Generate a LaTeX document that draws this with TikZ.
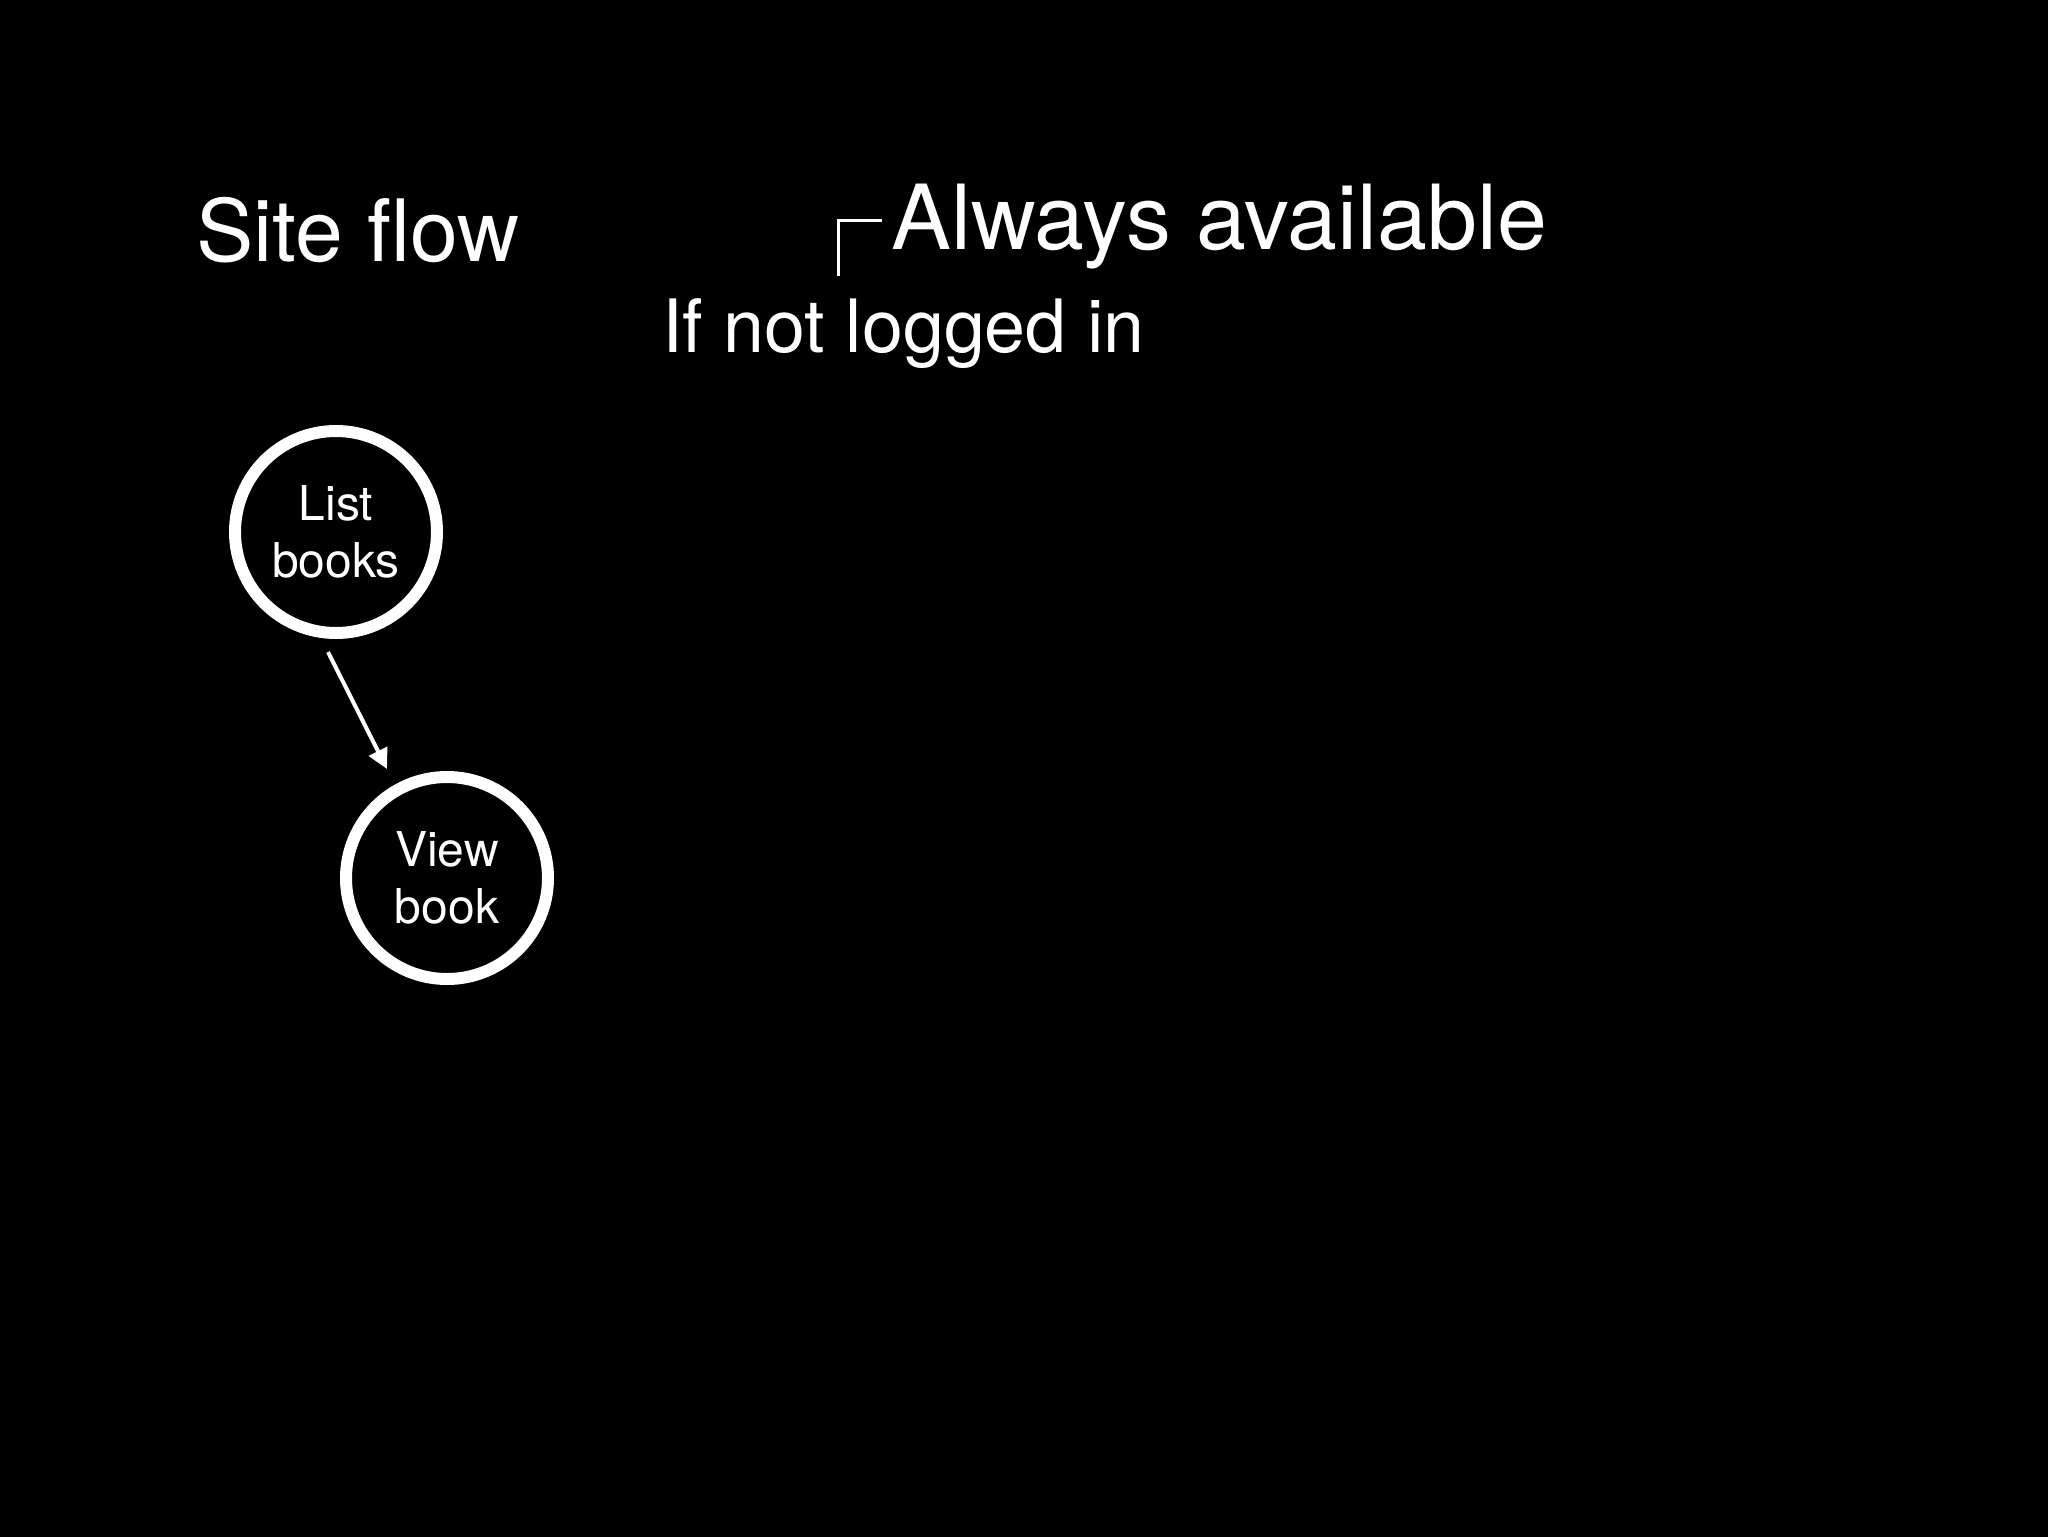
\documentclass[tikz,border=0pt]{standalone}
\usepackage{fontspec}
\setmainfont{TeX Gyre Heros}
\usetikzlibrary{calc,arrows.meta}
\begin{document}
\begin{tikzpicture}[x=0.5pt,y=-0.5pt,
  every node/.style={text=white},
  title/.style={anchor=base west,inner sep=0pt,font=\fontsize{43}{50}\selectfont},
  note/.style={anchor=base west,inner sep=0pt,font=\fontsize{36.8}{42}\selectfont},
  page/.style={circle,draw=white,fill=black,line width=6pt,minimum size=101pt,inner sep=0pt,
    align=center,font=\fontsize{24}{28.5}\selectfont},
  link/.style={draw=white,line width=2pt,-{Triangle[length=10pt,width=10pt]}}]
\useasboundingbox (0,0) rectangle (2048,1536);
\fill[black] (-20,-20) rectangle (2068,1556);
\node[title] (title) at (196,261) {Site flow};
\node[title,font=\fontsize{44.9}{50}\selectfont] (always) at (891,249) {Always available};
\node[note] (notlogged) at (662,352) {If not logged in};
\coordinate (brk) at (838,276);
\draw[white,line width=1.5pt] (brk) |- ($(always.base west)+(-9,-29)$) coordinate (brkend);
\node[page] (lb) at (336,532) {List\\books};
\node[page] (vb) at (447,878) {View\\book};
\draw[link] ($(lb)+(-8,120)$) -- ($(vb)+(-60,-109)$);
\end{tikzpicture}
\end{document}
